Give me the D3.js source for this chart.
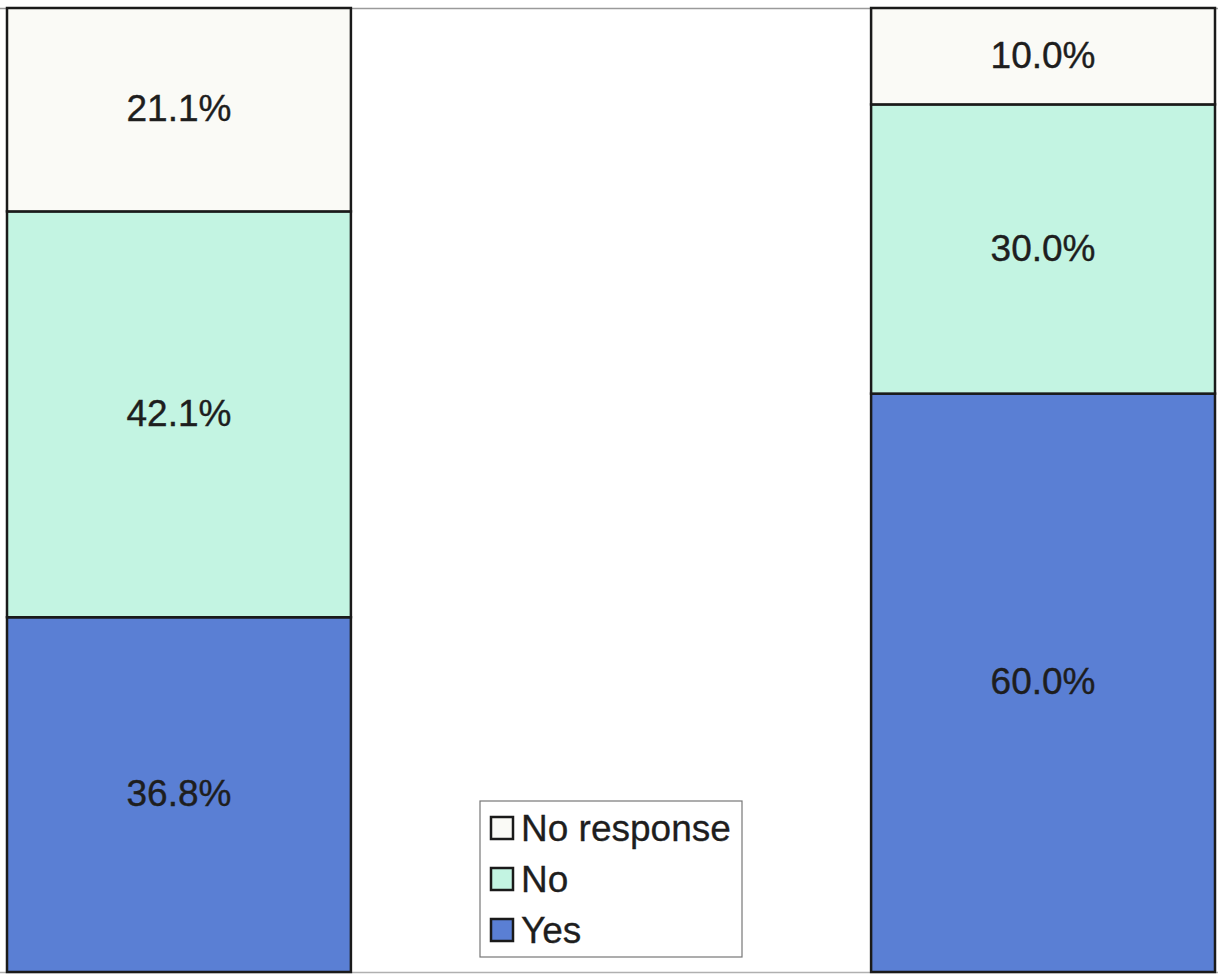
<!DOCTYPE html>
<html>
<head>
<meta charset="utf-8">
<script src="https://cdn.jsdelivr.net/npm/d3@7"></script>
<style>
  html, body { margin: 0; padding: 0; background: #fff; }
  svg { display: block; }
  text { font-family: "Liberation Sans", Arial, sans-serif; fill: #222; }
</style>
</head>
<body>
<svg id="chart" width="1218" height="975"></svg>
<script>
// Stacked 100% bars: share of responses per group
const categories = ["Group 1", "Group 2"];
const seriesNames = ["Yes", "No", "No response"];   // bottom to top
const yesValues = [36.8, 60.0];
const noValues = [42.1, 30.0];
const noResponseValues = [21.1, 10.0];
const legendOrder = ["No response", "No", "Yes"];

const colors = { "Yes": "#5a7fd4", "No": "#c3f4e2", "No response": "#fafaf6" };

const width = 1218, height = 975;
const margin = { top: 8, right: 3, bottom: 3, left: 7 };

const svg = d3.select("#chart");

const rows = categories.map((c, i) => ({
  category: c,
  "Yes": yesValues[i],
  "No": noValues[i],
  "No response": noResponseValues[i]
}));

const stack = d3.stack().keys(seriesNames);
const layers = stack(rows);

const x = d3.scaleBand()
  .domain(categories)
  .range([margin.left, width - margin.right])
  .paddingInner(0.602)
  .paddingOuter(0);

const y = d3.scaleLinear()
  .domain([0, 100])
  .range([height - margin.bottom, margin.top]);

// plot area frame lines (top and bottom)
svg.append("line")
  .attr("x1", 0).attr("x2", width)
  .attr("y1", y(100) + 0.5).attr("y2", y(100) + 0.5)
  .attr("stroke", "#9a9a9a").attr("stroke-width", 1.5);
svg.append("line")
  .attr("x1", 0).attr("x2", width)
  .attr("y1", y(0) + 0.5).attr("y2", y(0) + 0.5)
  .attr("stroke", "#b0b0b0").attr("stroke-width", 1.5);

// stacked segments
const layerG = svg.selectAll("g.layer")
  .data(layers)
  .join("g")
  .attr("class", "layer")
  .attr("fill", d => colors[d.key]);

layerG.selectAll("rect")
  .data(d => d.map(v => ({ key: d.key, v })))
  .join("rect")
  .attr("x", d => x(d.v.data.category))
  .attr("width", x.bandwidth())
  .attr("y", d => y(d.v[1]))
  .attr("height", d => y(d.v[0]) - y(d.v[1]))
  .attr("stroke", "#1a1a1a")
  .attr("stroke-width", 2.5);

// value labels centred in each segment
layerG.selectAll("text")
  .data(d => d.map(v => ({ key: d.key, v })))
  .join("text")
  .attr("x", d => x(d.v.data.category) + x.bandwidth() / 2)
  .attr("y", d => (y(d.v[0]) + y(d.v[1])) / 2 - 1)
  .attr("text-anchor", "middle")
  .attr("dominant-baseline", "central")
  .attr("font-size", 37)
  .style("fill", "#1e1e1e")
  .style("stroke", "#1e1e1e")
  .style("stroke-width", 0.4)
  .text(d => (d.v[1] - d.v[0]).toFixed(1) + "%");

// legend
const legend = svg.append("g").attr("transform", "translate(480,801)");
legend.append("rect")
  .attr("width", 262).attr("height", 156)
  .attr("fill", "#fff")
  .attr("stroke", "#777").attr("stroke-width", 1.2);

const item = legend.selectAll("g.item")
  .data(legendOrder)
  .join("g")
  .attr("class", "item")
  .attr("transform", (d, i) => `translate(10, ${27 + i * 51})`);

item.append("rect")
  .attr("x", 1).attr("y", -11)
  .attr("width", 22).attr("height", 22)
  .attr("fill", d => colors[d])
  .attr("stroke", "#1a1a1a").attr("stroke-width", 2.5);

item.append("text")
  .attr("x", 31).attr("y", 0)
  .attr("dominant-baseline", "central")
  .attr("font-size", 37)
  .style("fill", "#1e1e1e")
  .style("stroke", "#1e1e1e")
  .style("stroke-width", 0.3)
  .text(d => d);
</script>
</body>
</html>
